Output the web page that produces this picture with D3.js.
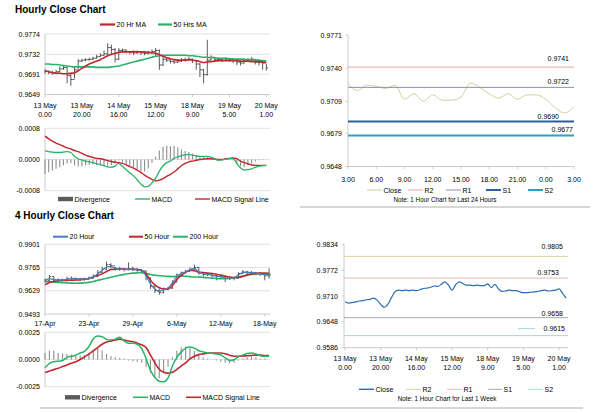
<!DOCTYPE html>
<html>
<head>
<meta charset="utf-8">
<script src="https://cdn.jsdelivr.net/npm/d3@7"></script>
<style>
  body { margin: 0; background: #fff; }
  svg { display: block; font-family: 'Liberation Sans', Arial, Helvetica, sans-serif; }
</style>
</head>
<body>
<svg id="chart" width="600" height="413"></svg>
<script>
// ---------- hourly close chart, one point every 2 hours ----------
var hourIdx = d3.range(0, 121, 2);
var hourTicks = [0, 20, 40, 60, 80, 100, 120];
var hourTickLabels = [["13 May", "0.00"], ["13 May", "20.00"], ["14 May", "16.00"], ["15 May", "12.00"],
                      ["18 May", "9.00"], ["19 May", "5.00"], ["20 May", "1.00"]];
var hourPriceTicks = [0.9649, 0.9691, 0.9732, 0.9774];
var hourClose = [0.9697,0.9695,0.9694,0.9696,0.9702,0.9705,0.9688,0.9680,0.9700,0.9718,
  0.9720,0.9721,0.9722,0.9724,0.9727,0.9730,0.9733,0.9746,0.9742,0.9722,
  0.9740,0.9741,0.9738,0.9736,0.9735,0.9737,0.9735,0.9734,0.9736,0.9738,
  0.9740,0.9710,0.9722,0.9720,0.9717,0.9716,0.9718,0.9720,0.9721,0.9722,
  0.9719,0.9712,0.9700,0.9690,0.9720,0.9726,0.9722,0.9721,0.9720,0.9722,
  0.9721,0.9719,0.9716,0.9714,0.9718,0.9720,0.9722,0.9716,0.9715,0.9714,
  0.9704];
var hourHigh = [0.9701,0.9699,0.9698,0.9700,0.9707,0.9710,0.9706,0.9692,0.9706,0.9722,
  0.9723,0.9724,0.9725,0.9727,0.9731,0.9734,0.9740,0.9755,0.9752,0.9745,
  0.9745,0.9744,0.9742,0.9739,0.9738,0.9740,0.9738,0.9737,0.9739,0.9742,
  0.9745,0.9742,0.9726,0.9724,0.9721,0.9720,0.9722,0.9724,0.9725,0.9726,
  0.9723,0.9720,0.9714,0.9702,0.9762,0.9730,0.9726,0.9725,0.9724,0.9726,
  0.9725,0.9723,0.9720,0.9719,0.9722,0.9724,0.9726,0.9722,0.9719,0.9718,
  0.9712];
var hourLow = [0.9692,0.9691,0.9690,0.9692,0.9695,0.9700,0.9672,0.9667,0.9682,0.9702,
  0.9716,0.9718,0.9719,0.9720,0.9723,0.9726,0.9729,0.9731,0.9730,0.9715,
  0.9720,0.9736,0.9734,0.9732,0.9731,0.9733,0.9731,0.9730,0.9732,0.9734,
  0.9728,0.9700,0.9708,0.9716,0.9713,0.9712,0.9714,0.9716,0.9717,0.9718,
  0.9714,0.9700,0.9685,0.9672,0.9688,0.9720,0.9718,0.9717,0.9716,0.9718,
  0.9717,0.9714,0.9710,0.9709,0.9713,0.9716,0.9717,0.9711,0.9709,0.9700,
  0.9698];
var hourMA20 = [0.9698,0.9696,0.9694,0.9693,0.9693,0.9692,0.9692,0.9693,0.9694,0.9698,
  0.9703,0.9708,0.9712,0.9715,0.9718,0.9721,0.9725,0.9729,0.9732,0.9734,
  0.9736,0.9737,0.9737,0.9737,0.9738,0.9737,0.9737,0.9737,0.9736,0.9735,
  0.9734,0.9731,0.9728,0.9725,0.9723,0.9721,0.9720,0.9720,0.9720,0.9721,
  0.9720,0.9719,0.9717,0.9715,0.9716,0.9717,0.9718,0.9719,0.9719,0.9719,
  0.9719,0.9719,0.9719,0.9718,0.9718,0.9718,0.9717,0.9717,0.9717,0.9716,
  0.9715];
var hourMA50 = [0.9712,0.9712,0.9711,0.9711,0.9710,0.9709,0.9708,0.9707,0.9706,0.9706,
  0.9706,0.9706,0.9706,0.9706,0.9705,0.9705,0.9705,0.9705,0.9706,0.9707,
  0.9708,0.9710,0.9712,0.9714,0.9716,0.9718,0.9720,0.9722,0.9724,0.9726,
  0.9728,0.9729,0.9730,0.9730,0.9730,0.9730,0.9730,0.9730,0.9730,0.9729,
  0.9729,0.9728,0.9727,0.9726,0.9726,0.9725,0.9725,0.9724,0.9724,0.9724,
  0.9723,0.9723,0.9722,0.9722,0.9722,0.9721,0.9721,0.9720,0.9720,0.9719,
  0.9718];
var hourMacdTicks = [-0.0008, 0, 0.0008];
var hourMacd = [0.00023,0.00020,0.00019,0.00018,0.00018,0.00019,0.00020,0.00018,0.00008,0.00002,
  -0.00001,-0.00004,-0.00006,-0.00008,-0.00011,-0.00013,-0.00016,-0.00019,-0.00020,-0.00017,
  -0.00010,-0.00018,-0.00026,-0.00034,-0.00042,-0.00052,-0.00063,-0.00070,-0.00069,-0.00060,
  -0.00048,-0.00030,-0.00016,-0.00008,-0.00004,0.00003,0.00007,0.00010,0.00012,0.00013,
  0.00011,0.00009,0.00008,0.00008,0.00008,0.00006,0.00002,-0.00002,-0.00001,0.00001,
  0.00002,0.00002,-0.00010,-0.00021,-0.00027,-0.00026,-0.00024,-0.00020,-0.00017,-0.00016,
  -0.00015];
var hourSignal = [0.00060,0.00053,0.00047,0.00042,0.00038,0.00034,0.00030,0.00027,0.00023,0.00020,
  0.00016,0.00011,0.00008,0.00005,0.00003,0.00002,0.00000,-0.00003,-0.00005,-0.00007,
  -0.00008,-0.00010,-0.00014,-0.00018,-0.00022,-0.00027,-0.00033,-0.00040,-0.00046,-0.00051,
  -0.00055,-0.00053,-0.00049,-0.00043,-0.00038,-0.00032,-0.00024,-0.00016,-0.00010,-0.00006,
  -0.00004,-0.00002,0.00000,0.00001,0.00002,0.00002,0.00001,0.00000,0.00000,0.00002,
  0.00003,0.00004,0.00002,-0.00004,-0.00008,-0.00011,-0.00014,-0.00015,-0.00015,-0.00015,
  -0.00015];
var hourDiv = [-0.00037,-0.00033,-0.00028,-0.00024,-0.00020,-0.00015,-0.00010,-0.00009,-0.00015,-0.00018,
  -0.00017,-0.00015,-0.00014,-0.00013,-0.00014,-0.00015,-0.00016,-0.00016,-0.00015,-0.00010,
  -0.00002,-0.00008,-0.00012,-0.00016,-0.00020,-0.00025,-0.00030,-0.00030,-0.00023,-0.00009,
  0.00007,0.00023,0.00033,0.00035,0.00034,0.00035,0.00031,0.00026,0.00022,0.00019,
  0.00015,0.00011,0.00008,0.00007,0.00006,0.00004,0.00001,-0.00002,-0.00001,-0.00001,
  -0.00001,-0.00002,-0.00012,-0.00017,-0.00019,-0.00015,-0.00010,-0.00005,-0.00002,-0.00001,
  0.00000];

// ---------- last 24 hours ----------
var dayIdx = d3.range(25);
var dayTicks = [0, 3, 6, 9, 12, 15, 18, 21, 24];
var dayTickLabels = ["3.00", "6.00", "9.00", "12.00", "15.00", "18.00", "21.00", "0.00", "3.00"];
var dayPriceTicks = [0.9648, 0.9679, 0.9709, 0.9740, 0.9771];
var dayClose = [0.9726,0.9719,0.9724,0.9723,0.9721,0.9724,0.9711,0.9716,0.9709,0.9715,
  0.9710,0.9710,0.9713,0.9726,0.9722,0.9716,0.9712,0.9716,0.9711,0.9715,
  0.9715,0.9711,0.9703,0.9698,0.9704];
var dayLevelNames = ["R2", "R1", "S1", "S2"];
var dayLevels = [0.9741, 0.9722, 0.9690, 0.9677];

// ---------- 4 hourly close chart, one point every 8 hours ----------
var fourIdx = d3.range(52);
var fourTicks = [0, 10, 20, 30, 40, 50];
var fourTickLabels = ["17-Apr", "23-Apr", "29-Apr", "6-May", "12-May", "18-May"];
var fourPriceTicks = [0.9493, 0.9629, 0.9765, 0.9901];
var fourClose = [0.9688,0.9712,0.9687,0.9693,0.9691,0.9700,0.9702,0.9698,0.9697,0.9697,
  0.9702,0.9712,0.9735,0.9755,0.9782,0.9775,0.9756,0.9757,0.9752,0.9758,
  0.9757,0.9750,0.9745,0.9705,0.9655,0.9630,0.9618,0.9638,0.9644,0.9680,
  0.9722,0.9734,0.9742,0.9755,0.9765,0.9732,0.9724,0.9726,0.9718,0.9714,
  0.9712,0.9702,0.9706,0.9703,0.9730,0.9740,0.9737,0.9735,0.9732,0.9728,
  0.9716,0.9722];
var fourHigh = [0.9700,0.9722,0.9712,0.9702,0.9700,0.9712,0.9714,0.9706,0.9705,0.9706,
  0.9712,0.9725,0.9750,0.9770,0.9800,0.9790,0.9768,0.9770,0.9762,0.9795,
  0.9770,0.9760,0.9755,0.9748,0.9706,0.9660,0.9640,0.9648,0.9652,0.9690,
  0.9730,0.9742,0.9752,0.9765,0.9782,0.9768,0.9735,0.9735,0.9728,0.9722,
  0.9720,0.9712,0.9714,0.9712,0.9738,0.9750,0.9746,0.9744,0.9740,0.9738,
  0.9730,0.9760];
var fourLow = [0.9676,0.9684,0.9678,0.9684,0.9682,0.9690,0.9692,0.9690,0.9688,0.9688,
  0.9694,0.9700,0.9710,0.9734,0.9752,0.9760,0.9746,0.9746,0.9742,0.9748,
  0.9745,0.9740,0.9732,0.9690,0.9640,0.9615,0.9605,0.9615,0.9632,0.9640,
  0.9678,0.9722,0.9732,0.9742,0.9752,0.9724,0.9712,0.9714,0.9702,0.9690,
  0.9700,0.9680,0.9692,0.9690,0.9700,0.9728,0.9726,0.9724,0.9720,0.9716,
  0.9690,0.9700];
var fourMA20 = [0.9690,0.9700,0.9695,0.9693,0.9692,0.9697,0.9700,0.9699,0.9698,0.9698,
  0.9701,0.9710,0.9728,0.9748,0.9768,0.9772,0.9762,0.9757,0.9754,0.9756,
  0.9756,0.9751,0.9745,0.9715,0.9670,0.9640,0.9625,0.9635,0.9645,0.9675,
  0.9712,0.9730,0.9740,0.9752,0.9760,0.9740,0.9728,0.9725,0.9720,0.9715,
  0.9712,0.9705,0.9705,0.9705,0.9722,0.9735,0.9737,0.9735,0.9732,0.9729,
  0.9722,0.9722];
var fourMA50 = [0.9663,0.9678,0.9684,0.9687,0.9689,0.9690,0.9691,0.9692,0.9693,0.9697,
  0.9701,0.9710,0.9718,0.9728,0.9742,0.9753,0.9756,0.9757,0.9756,0.9755,
  0.9754,0.9753,0.9748,0.9728,0.9690,0.9663,0.9647,0.9639,0.9640,0.9660,
  0.9695,0.9718,0.9737,0.9750,0.9746,0.9738,0.9735,0.9733,0.9730,0.9726,
  0.9721,0.9715,0.9709,0.9707,0.9707,0.9712,0.9722,0.9728,0.9731,0.9732,
  0.9732,0.9731];
var fourMA200 = [0.9683,0.9681,0.9679,0.9677,0.9676,0.9675,0.9674,0.9673,0.9674,0.9676,
  0.9678,0.9683,0.9690,0.9696,0.9702,0.9708,0.9714,0.9720,0.9725,0.9729,
  0.9732,0.9734,0.9735,0.9732,0.9724,0.9720,0.9717,0.9715,0.9713,0.9712,
  0.9713,0.9715,0.9714,0.9712,0.9710,0.9709,0.9707,0.9705,0.9703,0.9701,
  0.9699,0.9699,0.9701,0.9704,0.9710,0.9715,0.9720,0.9724,0.9727,0.9728,
  0.9727,0.9726];
var fourMacdTicks = [-0.0025, 0, 0.0025];
var fourMacd = [-0.00075,-0.00035,-0.0002,-0.00015,-0.0001,0.0002,0.0003,0.0004,0.0006,0.00075,
  0.0012,0.0019,0.00215,0.0021,0.00185,0.0018,0.00187,0.00205,0.0017,0.0015,
  0.0015,0.0014,0.001,0.0001,-0.001,-0.00165,-0.002,-0.00205,-0.0017,-0.0006,
  0.0002,0.0007,0.00105,0.00115,0.00105,0.0008,0.0007,0.0006,0.00058,0.0005,
  0.00042,0.00015,-0.0001,-0.00002,0.00025,0.0004,0.00055,0.0006,0.0005,0.00035,
  0.0003,0.0003];
var fourSignal = [-0.0012,-0.00105,-0.00093,-0.0008,-0.00065,-0.0005,-0.00035,-0.0002,0.0,0.00025,
  0.0005,0.0008,0.0011,0.0014,0.0016,0.0017,0.0018,0.00187,0.0018,0.0017,
  0.00165,0.0015,0.00135,0.0011,0.0004,-0.0003,-0.0009,-0.00118,-0.00126,-0.00118,
  -0.0009,-0.0006,-0.0003,0.00005,0.0003,0.00045,0.00052,0.00058,0.0006,0.0006,
  0.0006,0.00052,0.0004,0.0003,0.0003,0.00032,0.00035,0.00037,0.0004,0.0004,
  0.00036,0.00036];
var fourDiv = [0.0006,0.0008,0.0008,0.0006,0.00055,0.0005,0.00045,0.0004,0.0004,0.0004,
  0.0006,0.0009,0.001,0.0008,0.0005,0.0003,0.0002,0.00015,0.0001,-0.0001,
  -0.00015,-0.0002,-0.0003,-0.0007,-0.0012,-0.0016,-0.0017,-0.0012,-0.0007,0.0002,
  0.0008,0.0011,0.0012,0.0011,0.0008,0.0004,0.0002,0.0001,0.0,-0.0001,
  -0.0002,-0.0003,-0.00035,-0.0003,-0.0001,0.0001,0.0002,0.00025,0.0002,0.0001,
  0.0001,0.0];

// ---------- last week, 1 hour chart (every 2 hours) ----------
var weekIdx = d3.range(0, 125, 2);
var weekTicks = [0, 20, 40, 60, 80, 100, 120];
var weekPriceTicks = [0.9586, 0.9648, 0.9710, 0.9772, 0.9834];
var weekClose = [0.9696,0.9693,0.9694,0.9696,0.9698,0.9699,0.9701,0.9702,0.9705,0.9700,
  0.9690,0.9683,0.9690,0.9706,0.9720,0.9724,0.9723,0.9724,0.9723,0.9724,
  0.9723,0.9725,0.9728,0.9729,0.9731,0.9734,0.9733,0.9738,0.9744,0.9736,
  0.9724,0.9737,0.9744,0.9740,0.9736,0.9736,0.9735,0.9736,0.9735,0.9735,
  0.9739,0.9730,0.9738,0.9727,0.9721,0.9722,0.9724,0.9723,0.9723,0.9720,
  0.9718,0.9718,0.9719,0.9720,0.9721,0.9723,0.9724,0.9722,0.9723,0.9724,
  0.9727,0.9716,0.9705];
var weekLevelNames = ["R2", "R1", "S1", "S2"];
var weekLevels = [0.9805, 0.9753, 0.9658, 0.9615];

// ---------- colours ----------
var RED = "#c0282e", GREEN = "#2bb36b", BLUE = "#4a7fbf", AXIS = "#bfbfbf", GRID = "#d9d9d9";

var svg = d3.select("#chart");
svg.append("rect").attr("width", 600).attr("height", 413).attr("fill", "#fff");

function fmt4(d) { return d.toFixed(4); }

function title(x, y, s) {
  svg.append("text").attr("x", x).attr("y", y).attr("font-size", 10)
    .attr("font-weight", "bold").text(s);
}

function line(g, x, y, idx, vals, color, w) {
  g.append("path").datum(vals)
    .attr("fill", "none").attr("stroke", color).attr("stroke-width", w)
    .attr("stroke-linejoin", "round")
    .attr("d", d3.line().curve(d3.curveMonotoneX)
      .x(function(d, i) { return x(idx[i]); })
      .y(function(d) { return y(d); }));
}

function yLabels(y, ticks, xr) {
  svg.append("g").selectAll("text").data(ticks).enter().append("text")
    .attr("x", xr).attr("y", function(d) { return y(d) + 2.5; })
    .attr("text-anchor", "end").attr("font-size", 7).text(fmt4);
}

function grid(y, ticks, x0, x1) {
  svg.append("g").selectAll("line").data(ticks).enter().append("line")
    .attr("x1", x0).attr("x2", x1)
    .attr("y1", function(d) { return y(d); }).attr("y2", function(d) { return y(d); })
    .attr("stroke", GRID).attr("stroke-width", 0.8);
}

function vAxis(x0, y0, y1) {
  svg.append("line").attr("x1", x0).attr("x2", x0).attr("y1", y0).attr("y2", y1)
    .attr("stroke", AXIS).attr("stroke-width", 0.8);
}

function hAxis(y0, x0, x1) {
  svg.append("line").attr("x1", x0).attr("x2", x1).attr("y1", y0).attr("y2", y0)
    .attr("stroke", AXIS).attr("stroke-width", 0.8);
}

function xTickMarks(x, ticks, y0, len) {
  svg.append("g").selectAll("line").data(ticks).enter().append("line")
    .attr("x1", function(d) { return x(d); }).attr("x2", function(d) { return x(d); })
    .attr("y1", y0).attr("y2", y0 + len).attr("stroke", AXIS).attr("stroke-width", 0.8);
}

function yTickMarks(y, ticks, x0, len) {
  svg.append("g").selectAll("line").data(ticks).enter().append("line")
    .attr("x1", x0 - len).attr("x2", x0)
    .attr("y1", function(d) { return y(d); }).attr("y2", function(d) { return y(d); })
    .attr("stroke", AXIS).attr("stroke-width", 0.8);
}

function xLabels(x, ticks, labels, y0) {
  var g = svg.append("g");
  ticks.forEach(function(t, i) {
    var lab = labels[i];
    var parts = Array.isArray(lab) ? lab : [lab];
    parts.forEach(function(p, j) {
      g.append("text").attr("x", x(t)).attr("y", y0 + j * 9)
        .attr("text-anchor", "middle").attr("font-size", 7).text(p);
    });
  });
}

// legend entry: kind "line" or "box"
function legend(items, cy) {
  var g = svg.append("g");
  items.forEach(function(it) {
    if (it.kind === "box") {
      g.append("rect").attr("x", it.x0).attr("y", cy - 2.2).attr("width", it.x1 - it.x0)
        .attr("height", 4.4).attr("fill", it.color);
    } else {
      g.append("line").attr("x1", it.x0).attr("x2", it.x1).attr("y1", cy).attr("y2", cy)
        .attr("stroke", it.color).attr("stroke-width", it.w);
    }
    g.append("text").attr("x", it.x1 + 1.5).attr("y", cy + 2.5)
      .attr("font-size", it.fs || 7).text(it.label);
  });
}

function hlc(g, x, y, idx, hi, lo, cl, color) {
  idx.forEach(function(t, i) {
    var px = x(t);
    g.append("line").attr("x1", px).attr("x2", px).attr("y1", y(hi[i])).attr("y2", y(lo[i]))
      .attr("stroke", color).attr("stroke-width", 0.8);
    g.append("line").attr("x1", px).attr("x2", px + 1.8).attr("y1", y(cl[i])).attr("y2", y(cl[i]))
      .attr("stroke", color).attr("stroke-width", 0.8);
    if (i > 0) {
      g.append("line").attr("x1", px - 1.8).attr("x2", px).attr("y1", y(cl[i - 1])).attr("y2", y(cl[i - 1]))
        .attr("stroke", color).attr("stroke-width", 0.8);
    }
  });
}

function bars(g, x, y, idx, vals, color, w) {
  g.selectAll("line").data(vals).enter().append("line")
    .attr("x1", function(d, i) { return x(idx[i]); })
    .attr("x2", function(d, i) { return x(idx[i]); })
    .attr("y1", y(0)).attr("y2", function(d) { return y(d); })
    .attr("stroke", color).attr("stroke-width", w);
}

// ================= Hourly close chart =================
title(15, 13, "Hourly Close Chart");
legend([
  { x0: 100, x1: 115, label: "20 Hr MA", color: RED, w: 2.2 },
  { x0: 158, x1: 172, label: "50 Hrs MA", color: GREEN, w: 2.2 }
], 24.5);

var xHour = d3.scaleLinear().domain([0, 122]).range([45, 270]);
var yHour = d3.scaleLinear().domain([0.9649, 0.9774]).range([94.5, 34]);
grid(yHour, hourPriceTicks.slice(1), 45, 270);
vAxis(45, 34, 94.5);
hAxis(94.5, 45, 270);
xTickMarks(xHour, hourTicks, 94.5, 2.5);
yLabels(yHour, hourPriceTicks, 40);
var gHour = svg.append("g");
hlc(gHour, xHour, yHour, hourIdx, hourHigh, hourLow, hourClose, "#333");
line(gHour, xHour, yHour, hourIdx, hourMA50, GREEN, 1.6);
line(gHour, xHour, yHour, hourIdx, hourMA20, RED, 1.6);
xLabels(xHour, hourTicks, hourTickLabels, 107.5);

// hourly MACD
var yHourM = d3.scaleLinear().domain([-0.0008, 0.0008]).range([190.7, 128.3]);
grid(yHourM, hourMacdTicks, 45, 270);
vAxis(45, 128.3, 190.7);
yLabels(yHourM, hourMacdTicks, 40);
var gHourM = svg.append("g");
bars(gHourM, xHour, yHourM, hourIdx, hourDiv, "#8c8c8c", 1.1);
line(gHourM, xHour, yHourM, hourIdx, hourSignal, RED, 1.4);
line(gHourM, xHour, yHourM, hourIdx, hourMacd, GREEN, 1.3);
legend([
  { kind: "box", x0: 58, x1: 73, label: "Divergence", color: "#5a5a5a" },
  { x0: 135, x1: 150, label: "MACD", color: GREEN, w: 1.4 },
  { x0: 195, x1: 210, label: "MACD Signal Line", color: RED, w: 1.4 }
], 199);

// ================= Last 24 hours =================
var xDay = d3.scaleLinear().domain([0, 24]).range([348, 574]);
var yDay = d3.scaleLinear().domain([0.9648, 0.9771]).range([166.5, 35]);
vAxis(348, 35, 166.5);
hAxis(166.5, 348, 574);
yTickMarks(yDay, dayPriceTicks, 348, 2.5);
xTickMarks(xDay, dayTicks, 166.5, 2.5);
yLabels(yDay, dayPriceTicks, 342);
xLabels(xDay, dayTicks, dayTickLabels, 181.5);

var dayColors = ["#e8a5a5", "#8e8eb8", "#2f5f9c", "#2aa3c2"];
var dayWidths = [1, 1, 2, 2];
var dayLabelX = [569, 569, 559, 573];
var dayLabelDy = [-6, -3.5, -3, -3];
var gDay = svg.append("g");
line(gDay, xDay, yDay, dayIdx, dayClose, "#c9d59c", 1);
dayLevels.forEach(function(v, i) {
  gDay.append("line").attr("x1", 348).attr("x2", 574)
    .attr("y1", yDay(v)).attr("y2", yDay(v))
    .attr("stroke", dayColors[i]).attr("stroke-width", dayWidths[i]);
  gDay.append("text").attr("x", dayLabelX[i]).attr("y", yDay(v) + dayLabelDy[i])
    .attr("text-anchor", "end").attr("font-size", 7).text(fmt4(v));
});
legend([
  { x0: 367, x1: 382, label: "Close", color: "#c9d59c", w: 1 },
  { x0: 408, x1: 423, label: "R2", color: dayColors[0], w: 1 },
  { x0: 446, x1: 461, label: "R1", color: dayColors[1], w: 1 },
  { x0: 486, x1: 501, label: "S1", color: dayColors[2], w: 2 },
  { x0: 528, x1: 543, label: "S2", color: dayColors[3], w: 2 }
], 190);
svg.append("text").attr("x", 445).attr("y", 202).attr("text-anchor", "middle")
  .attr("font-size", 6.3).text("Note: 1 Hour Chart for Last 24 Hours");
svg.append("line").attr("x1", 300).attr("x2", 590).attr("y1", 207).attr("y2", 207)
  .attr("stroke", "#9a9a9a").attr("stroke-width", 0.8);

// ================= 4 Hourly close chart =================
title(15, 219, "4 Hourly Close Chart");
legend([
  { x0: 53, x1: 68, label: "20 Hour", color: BLUE, w: 2 },
  { x0: 129, x1: 143, label: "50 Hour", color: RED, w: 2 },
  { x0: 173, x1: 188, label: "200 Hour", color: GREEN, w: 2 }
], 236.7);

var xFour = d3.scaleLinear().domain([0, 51.2]).range([45, 270]);
var yFour = d3.scaleLinear().domain([0.9493, 0.9901]).range([314, 244.3]);
grid(yFour, fourPriceTicks.slice(1), 45, 270);
vAxis(45, 244.3, 314);
hAxis(314, 45, 270);
xTickMarks(xFour, fourTicks, 314, 2.5);
yLabels(yFour, fourPriceTicks, 40);
var gFour = svg.append("g");
hlc(gFour, xFour, yFour, fourIdx, fourHigh, fourLow, fourClose, "#333");
line(gFour, xFour, yFour, fourIdx, fourMA200, GREEN, 1.6);
line(gFour, xFour, yFour, fourIdx, fourMA50, RED, 1.6);
line(gFour, xFour, yFour, fourIdx, fourMA20, BLUE, 1.3);
xLabels(xFour, fourTicks, fourTickLabels, 325.5);

// 4 hourly MACD
var yFourM = d3.scaleLinear().domain([-0.0025, 0.0025]).range([386.7, 332.3]);
grid(yFourM, fourMacdTicks, 45, 270);
vAxis(45, 332.3, 386.7);
yLabels(yFourM, fourMacdTicks, 40);
var gFourM = svg.append("g");
bars(gFourM, xFour, yFourM, fourIdx, fourDiv, "#8c8c8c", 1.1);
line(gFourM, xFour, yFourM, fourIdx, fourSignal, RED, 1.6);
line(gFourM, xFour, yFourM, fourIdx, fourMacd, GREEN, 1.5);
legend([
  { kind: "box", x0: 65, x1: 80, label: "Divergence", color: "#5a5a5a" },
  { x0: 133, x1: 148, label: "MACD", color: GREEN, w: 1.6 },
  { x0: 186, x1: 201, label: "MACD Signal Line", color: RED, w: 1.6 }
], 397.3);
svg.append("line").attr("x1", 40).attr("x2", 300).attr("y1", 408).attr("y2", 408)
  .attr("stroke", "#9a9a9a").attr("stroke-width", 0.8);

// ================= Last week =================
var xWeek = d3.scaleLinear().domain([0, 125]).range([345, 568]);
var yWeek = d3.scaleLinear().domain([0.9586, 0.9834]).range([347.7, 244.3]);
vAxis(344, 244.3, 347.7);
hAxis(347.7, 344, 568);
yTickMarks(yWeek, weekPriceTicks, 344, 2.5);
xTickMarks(xWeek, weekTicks, 347.7, 2.5);
yLabels(yWeek, weekPriceTicks, 338);
xLabels(xWeek, weekTicks, hourTickLabels, 360.5);

var weekColors = ["#d9d1a3", "#e3b8b8", "#a8a8a8", "#a9d5e3"];
var weekLabelX = [563, 559, 563, 565];
var weekLabelDy = [-7, -3, -1.8, -4.6];
var gWeek = svg.append("g");
weekLevels.forEach(function(v, i) {
  gWeek.append("line").attr("x1", 344).attr("x2", 568)
    .attr("y1", yWeek(v)).attr("y2", yWeek(v))
    .attr("stroke", weekColors[i]).attr("stroke-width", 1);
  gWeek.append("text").attr("x", weekLabelX[i]).attr("y", yWeek(v) + weekLabelDy[i])
    .attr("text-anchor", "end").attr("font-size", 7).text(fmt4(v));
});
gWeek.append("line").attr("x1", 518).attr("x2", 535)
  .attr("y1", yWeek(weekLevels[3]) - 7).attr("y2", yWeek(weekLevels[3]) - 7)
  .attr("stroke", weekColors[3]).attr("stroke-width", 1);
line(gWeek, xWeek, yWeek, weekIdx, weekClose, "#2a6db3", 1.2);
legend([
  { x0: 359, x1: 374, label: "Close", color: "#2a6db3", w: 1.4 },
  { x0: 406, x1: 421, label: "R2", color: weekColors[0], w: 1 },
  { x0: 447, x1: 462, label: "R1", color: weekColors[1], w: 1 },
  { x0: 488, x1: 502, label: "S1", color: weekColors[2], w: 1 },
  { x0: 528, x1: 543, label: "S2", color: weekColors[3], w: 1 }
], 389.3);
svg.append("text").attr("x", 447).attr("y", 401).attr("text-anchor", "middle")
  .attr("font-size", 6.3).text("Note: 1 Hour Chart for Last 1 Week");
svg.append("line").attr("x1", 300).attr("x2", 583).attr("y1", 408).attr("y2", 408)
  .attr("stroke", "#9a9a9a").attr("stroke-width", 0.8);
</script>
</body>
</html>
